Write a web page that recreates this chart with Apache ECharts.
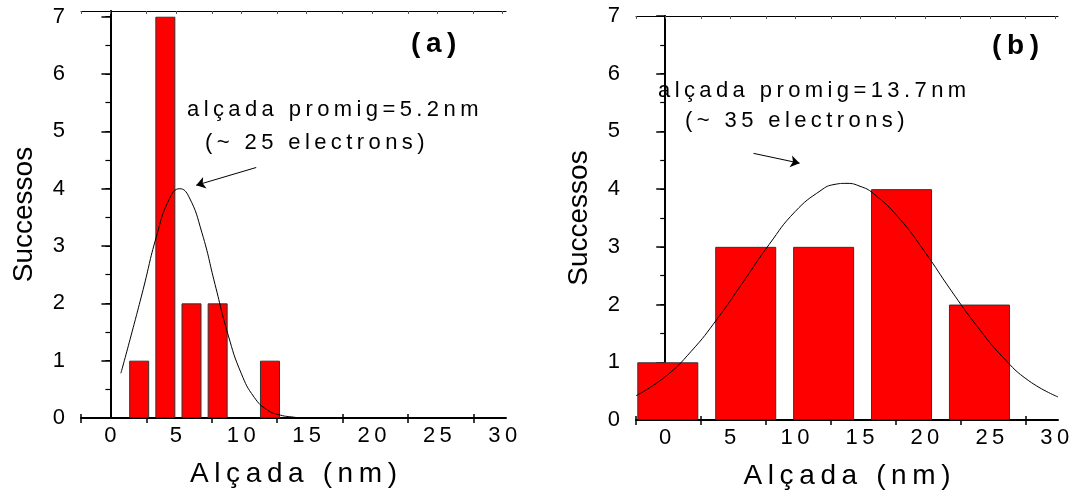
<!DOCTYPE html>
<html>
<head>
<meta charset="utf-8">
<script src="https://cdn.jsdelivr.net/npm/echarts@6/dist/echarts.min.js"></script>
<style>
  html, body { margin: 0; padding: 0; background: #fff; }
  #chart { width: 1074px; height: 495px; }
</style>
</head>
<body>
<div id="chart"></div>
<script>
// histograma (a): centres de classe i recomptes
const leftBarX = [2.2, 4.2, 6.2, 8.2, 12.2];
const leftBarCounts = [1, 7, 2, 2, 1];
// histograma (b)
const rightBarX = [0.2, 6.2, 12.2, 18.2, 24.2];
const rightBarCounts = [1, 3, 3, 4, 2];

// corba d'ajust llegida de la figura (a)
const leftFitX = [0.8, 1.5, 2.5, 3.5, 4.5, 5.3, 6, 7, 8, 9, 10, 11, 12, 13, 14, 14.5];
const leftFitY = [0.78, 1.37, 2.24, 3.15, 3.82, 4.0, 3.86, 3.23, 2.33, 1.45, 0.78, 0.36, 0.14, 0.05, 0.015, 0];
// corba d'ajust llegida de la figura (b)
const rightFitX = [-2.25, 0, 2, 4, 6, 8, 10, 12, 13, 14, 15, 16, 18, 20, 22, 24, 26, 28, 30.25];
const rightFitY = [0.42, 0.75, 1.19, 1.75, 2.39, 3.04, 3.61, 3.98, 4.08, 4.1, 4.05, 3.93, 3.5, 2.91, 2.25, 1.63, 1.09, 0.68, 0.4];

// eixos
const xTickLabels = [0, 5, 10, 15, 20, 25, 30];
const xTickMarks = [-2.25, 2.75, 7.75, 12.75, 17.75, 22.75, 27.75];
const yTickLabels = [0, 1, 2, 3, 4, 5, 6, 7];

const xTitle = "Alçada (nm)";
const yTitle = "Successos";
const leftNote = ["alçada promig=5.2nm", "(~ 25 electrons)"];
const rightNote = ["alçada promig=13.7nm", "(~ 35 electrons)"];

const FONT = "'Liberation Sans', Arial, sans-serif";
// el text original va molt espaiat: espai fi entre lletres
const spaced = s => s.split("").join("\u2009");
const zip = (a, b) => a.map((v, i) => [v, b[i]]);

function xAxes(grid) {
  return [
    {
      gridIndex: grid, type: "value", position: "bottom", min: -2.25, max: 30.25,
      axisLine: { lineStyle: { color: "#000", width: 2 } },
      axisTick: { customValues: xTickMarks, length: 5, lineStyle: { color: "#000", width: 1.5 } },
      axisLabel: {
        customValues: xTickLabels, color: "#000", fontSize: 22, fontFamily: FONT, margin: 7,
        formatter: v => spaced(String(v))
      },
      splitLine: { show: false },
      name: spaced(xTitle), nameLocation: "middle", nameGap: 42,
      nameTextStyle: { color: "#000", fontSize: 28, fontFamily: FONT }
    },
    {
      gridIndex: grid, type: "value", position: "bottom", min: -2.25, max: 30.25,
      axisLine: { show: false },
      axisTick: { customValues: xTickMarks, inside: true, length: 4, lineStyle: { color: "#000", width: 1.5 } },
      axisLabel: { show: false }, splitLine: { show: false }
    },
    {
      gridIndex: grid, type: "value", position: "top", min: -2.25, max: 30.25,
      axisLine: { lineStyle: { color: "#000", width: 1 } },
      axisTick: { customValues: xTickMarks.concat(xTickLabels), inside: true, length: 3, lineStyle: { color: "#555" } },
      axisLabel: { show: false }, splitLine: { show: false }
    }
  ];
}

function yAxes(grid, max) {
  return [
    {
      gridIndex: grid, type: "value", position: "left", min: 0, max: max, interval: 1,
      axisLine: { show: true, lineStyle: { color: "#000", width: 2 } },
      axisTick: { show: true, customValues: yTickLabels, length: 9, lineStyle: { color: "#000", width: 1.5 } },
      minorTick: { show: true, splitNumber: 2, length: 5, lineStyle: { color: "#000", width: 1.2 } },
      axisLabel: { customValues: yTickLabels, color: "#000", fontSize: 22, fontFamily: FONT, margin: 16 },
      splitLine: { show: false },
      name: yTitle, nameLocation: "middle", nameGap: 43, nameRotate: 90,
      nameTextStyle: { color: "#000", fontSize: 28, fontFamily: FONT }
    },
    {
      gridIndex: grid, type: "value", position: "right", min: 0, max: max, interval: 1,
      axisLine: { show: true, lineStyle: { color: "#000", width: 1.5 } },
      axisTick: { show: true, customValues: yTickLabels, inside: true, length: 5, lineStyle: { color: "#000" } },
      minorTick: { show: true, splitNumber: 2, length: 4, lineStyle: { color: "#000" } },
      axisLabel: { show: false }, splitLine: { show: false }
    }
  ];
}

function barSeries(xi, yi, xs, counts, width) {
  return {
    type: "bar", xAxisIndex: xi, yAxisIndex: yi, data: zip(xs, counts), barWidth: width,
    itemStyle: { color: "#ff0000", borderColor: "#333", borderWidth: 1 }
  };
}

function fitSeries(xi, yi, xs, ys, arrow) {
  return {
    type: "line", xAxisIndex: xi, yAxisIndex: yi, data: zip(xs, ys), smooth: true,
    showSymbol: false, symbol: "none", z: 5,
    lineStyle: { color: "#000", width: 1 },
    markLine: {
      silent: true, symbol: ["none", "arrow"], symbolSize: 9,
      label: { show: false },
      lineStyle: { color: "#000", width: 1, type: "solid" },
      data: [[{ coord: arrow[0] }, { coord: arrow[1] }]]
    }
  };
}

function note(lines, x1, y1, x2, y2) {
  return [
    { type: "text", left: x1, top: y1, style: { text: spaced(lines[0]), fill: "#000", font: "22px " + FONT } },
    { type: "text", left: x2, top: y2, style: { text: spaced(lines[1]), fill: "#000", font: "22px " + FONT } }
  ];
}

const chart = echarts.init(document.getElementById("chart"));
chart.setOption({
  animation: false,
  backgroundColor: "#fff",
  grid: [
    { left: 81, top: 11, width: 425, height: 407 },
    { left: 636, top: 16, width: 422, height: 407 }
  ],
  xAxis: xAxes(0).concat(xAxes(1)),
  yAxis: yAxes(0, 7.1).concat(yAxes(1, 7)),
  series: [
    barSeries(0, 0, leftBarX, leftBarCounts, 20),
    fitSeries(0, 0, leftFitX, leftFitY, [[11.15, 4.37], [6.56, 4.06]]),
    barSeries(3, 2, rightBarX, rightBarCounts, 61),
    fitSeries(3, 2, rightFitX, rightFitY, [[6.8, 4.62], [10.35, 4.45]])
  ],
  graphic: [
    ...note(leftNote, 187, 99, 205, 132),
    ...note(rightNote, 658, 80, 685, 110),
    { type: "text", left: 411, top: 30, style: { text: spaced("(a)"), fill: "#000", font: "bold 28px " + FONT } },
    { type: "text", left: 992, top: 32, style: { text: spaced("(b)"), fill: "#000", font: "bold 28px " + FONT } }
  ]
});
</script>
</body>
</html>
